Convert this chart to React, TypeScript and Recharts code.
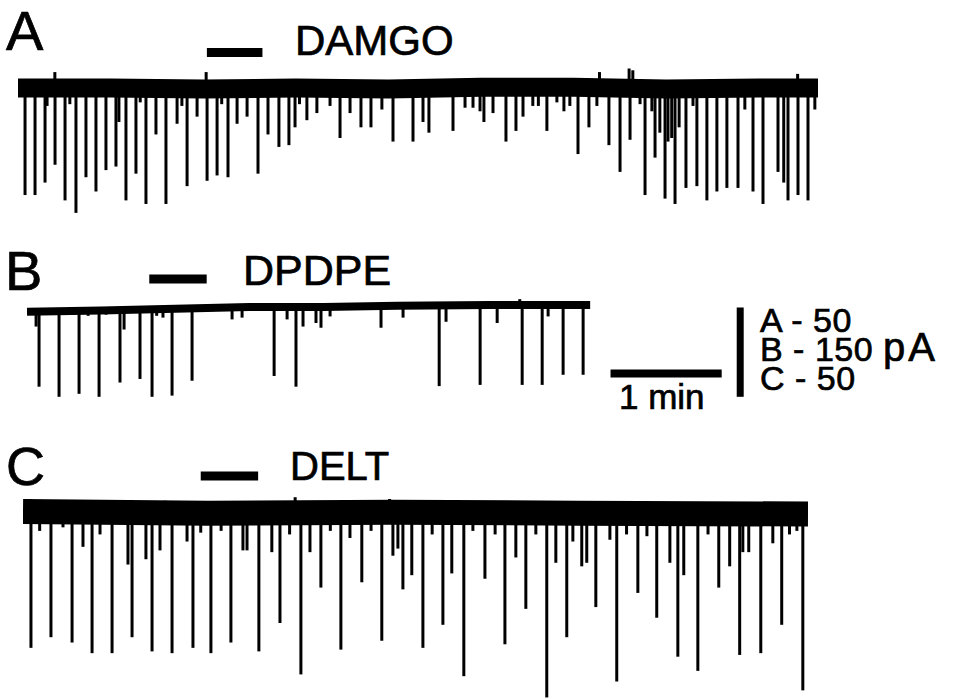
import React from "react";
import { ComposedChart, Line, XAxis, YAxis, ReferenceLine } from "recharts";

type Pair = [number, number];

// time in s, current in pA (negative = inward)
// trace A - DAMGO
const baseA: Pair[] = [[0, 0], [50, 0], [100, -0.5], [150, 0], [200, -0.5], [250, 0.5], [300, 0.5], [350, -0.5], [400, 0], [432, 0]];
const eventsA: Pair[] = [
  [3.8, -60], [9.2, -60], [14.6, -53], [15.7, -10], [19.9, 9], [20, -43], [25.4, -63], [28, -9], [31.3, -70],
  [36.7, -50], [42.1, -58], [47.5, -46], [52.9, -44], [54.5, -19], [58.3, -63], [63.7, -48], [66, -8], [69.1, -65],
  [74.5, -26], [79.9, -65], [85.9, -20], [88.5, -10], [91.3, -55], [96.7, -16], [101.6, 9], [102.1, -52], [107.5, -49],
  [110, -9], [113.4, -50], [118.3, -20], [123.7, -16], [129.6, -48], [135, -26], [140.9, -33], [146.3, -32],
  [149.6, -22], [152, -9], [156, -18], [161.4, -14], [168.5, -10], [173.9, -28], [179.3, -14], [185.2, -22],
  [190.6, -22], [196.5, -12], [202.5, -30], [213.3, -30], [218.7, -19], [221.9, -25], [234.9, -24], [241.4, -11],
  [245.7, -11], [249.5, -13], [251.6, -19], [256.5, -14], [263.5, -30], [268.9, -24], [272.7, -16], [278, -10],
  [281, -10], [285.6, -24], [291, -8], [294.8, -13], [298, -10], [302.4, -37], [308.3, -22], [312.6, -10], [314, 9],
  [319.1, -32], [325.1, -47], [330, 11], [330.5, -29], [332, 10], [335.9, -9], [338.6, -60], [342.3, -13], [344, -39],
  [346.6, -25], [349.4, -62], [351, -30], [353, -28], [354.8, -65], [357, -22], [360.7, -56], [364.5, -10],
  [366.6, -55], [372, -63], [377.4, -58], [382.8, -56], [388.8, -56], [392.5, -12], [396.9, -58], [402.3, -65],
  [410.4, -47], [413.5, -53], [415.8, -63], [421, 8], [421.2, -60], [426.6, -63], [430.3, -12],
];
const drugA: Pair = [102, 132];

// trace B - DPDPE
const baseB: Pair[] = [[0, -5], [40, -3], [80, 0], [120, 3], [160, 3], [200, 5], [250, 6], [304, 6]];
const eventsB: Pair[] = [
  [4.9, -30], [6.5, -131], [17.3, -148], [28.1, -143], [33, -12], [38.9, -148], [42.7, -10], [50.2, -124], [52.4, -35],
  [61, -118], [67.5, -148], [70, -12], [73.4, -15], [78.3, -146], [89.1, -121], [110.7, -18], [116.1, -15],
  [133.4, -113], [140.4, -18], [145.2, -131], [149, -30], [156, -24], [158.7, -32], [163.6, -13], [191.1, -32],
  [203, -15], [222.5, -130], [226.2, -22], [244.6, -128], [253.8, -24], [266, 16], [267.3, -128], [278.1, -128],
  [281.3, -13], [289.4, -111], [300.2, -111],
];
const drugB: Pair = [66, 97];

// trace C - DELT
const baseC: Pair[] = [[0, 1], [100, 0], [200, 0.5], [300, 0], [424, -0.5]];
const eventsC: Pair[] = [
  [3.8, 8], [4.3, -76], [9, -10], [15.1, -70], [21.6, -8], [26.5, -73], [32.4, -19], [37.3, -79], [41.6, -12], [47, 7],
  [48.1, -79], [56.7, -29], [58.9, -70], [66.4, -26], [69.7, -78], [74, -21], [76.7, 7], [80.5, -79], [88.6, -16],
  [91.8, -76], [96, -11], [101.5, -79], [107, -10], [112.3, -73], [118.8, -21], [121, -21], [127.4, -78], [134.4, -22],
  [138.8, -62], [144, -12], [147, 9], [150.1, -91], [155, -22], [160.9, -42], [166, -10], [171.7, -77], [176.6, -14],
  [183, -39], [188, -10], [193.8, -72], [198, 8], [199.8, -24], [202.5, -20], [205.2, -43], [210, -35], [216, -76],
  [221, -12], [226.8, -63], [231.6, -34], [238.1, -92], [243, -10], [249.5, -37], [255, -12], [260.3, -74],
  [266.2, -25], [271.6, -54], [277, -12], [282.9, -104], [287.8, -28], [293.7, -70], [297, -16], [301.8, -30],
  [304.5, -28], [309.4, -53], [317, -15], [320.7, -95], [326, -12], [332.1, -45], [337, -13], [342.3, -59],
  [349.4, -28], [353.7, -81], [356.9, -35], [364.5, -89], [370, -12], [375.8, -42], [381.7, -30], [387.1, -80],
  [388.8, -22], [392, -22], [398.5, -79], [405, -17], [409.8, -63], [414, -12], [418, -10], [421.2, -100],
];
const drugC: Pair = [96, 127];

// calibration: 1 min, 150 pA on trace B scale (= 50 pA on A and C)
const minuteBar: Pair = [315, 375];
const currentBar: Pair = [2, -148];

const FONT = "'Liberation Sans', Arial, Helvetica, sans-serif";

interface TraceProps {
  base: Pair[];
  events: Pair[];
  drug: Pair;
  drugLevel: number;
  left: number;
  top: number;
  width: number;
  height: number;
  tMax: number;
  yDomain: Pair;
  band: number;
  children?: React.ReactNode;
}

function Trace({ base, events, drug, drugLevel, left, top, width, height, tMax, yDomain, band, children }: TraceProps) {
  const rows = base.map(([t, v]) => ({ t, base: v }));

  return (
    <div style={{ position: "absolute", left, top }}>
      <ComposedChart width={width} height={height} data={rows} margin={{ top: 0, right: 0, bottom: 0, left: 0 }}>
        <XAxis type="number" dataKey="t" domain={[0, tMax]} hide allowDataOverflow />
        <YAxis type="number" domain={yDomain} hide allowDataOverflow />
        {/* synaptic currents: one stroke per event, from baseline to peak */}
        {events.map(([t, a], i) => (
          <ReferenceLine
            key={i}
            segment={[{ x: t, y: 0 }, { x: t, y: a }]}
            stroke="#000"
            strokeWidth={3}
            ifOverflow="visible"
          />
        ))}
        <Line
          dataKey="base"
          type="linear"
          stroke="#000"
          strokeWidth={band}
          dot={false}
          connectNulls
          isAnimationActive={false}
        />
        <ReferenceLine
          segment={[{ x: drug[0], y: drugLevel }, { x: drug[1], y: drugLevel }]}
          stroke="#000"
          strokeWidth={9}
        />
        {children}
      </ComposedChart>
    </div>
  );
}

export default function App() {
  return (
    <div style={{ position: "absolute", left: 0, top: 0, width: 955, height: 698, background: "#fff", overflow: "hidden" }}>
      <Trace base={baseA} events={eventsA} drug={drugA} drugLevel={20} left={18} top={40} width={800} height={180}
        tMax={432} yDomain={[-74, 27]} band={19} />
      <Trace base={baseB} events={eventsB} drug={drugB} drugLevel={50} left={27} top={267} width={741} height={131}
        tMax={400} yDomain={[-150, 70]} band={8}>
        <ReferenceLine
          segment={[{ x: minuteBar[0], y: -109 }, { x: minuteBar[1], y: -109 }]}
          stroke="#000"
          strokeWidth={8}
        />
        <ReferenceLine
          segment={[{ x: 385, y: currentBar[0] }, { x: 385, y: currentBar[1] }]}
          stroke="#000"
          strokeWidth={7}
        />
      </Trace>
      <Trace base={baseC} events={eventsC} drug={drugC} drugLevel={21} left={23} top={460} width={785} height={241}
        tMax={424} yDomain={[-106, 30]} band={25} />

      <svg width={955} height={698} style={{ position: "absolute", left: 0, top: 0, pointerEvents: "none" }}>
        <g fontFamily={FONT} fill="#000" stroke="#000" strokeWidth={0.7}>
          <text x={6} y={50} fontSize={56}>A</text>
          <text x={295} y={55} fontSize={42}>DAMGO</text>
          <text x={5} y={290} fontSize={56}>B</text>
          <text x={243} y={285} fontSize={43}>DPDPE</text>
          <text x={6} y={485} fontSize={54}>C</text>
          <text x={290} y={480} fontSize={40}>DELT</text>
          <text x={619} y={409} fontSize={35}>1 min</text>
          <text x={760} y={332} fontSize={34} letterSpacing={0.5}>A - 50</text>
          <text x={760} y={361} fontSize={34} letterSpacing={0.5}>
            B - 150 <tspan fontSize={40} letterSpacing={3}>pA</tspan>
          </text>
          <text x={760} y={390} fontSize={34} letterSpacing={0.5}>C - 50</text>
        </g>
      </svg>
    </div>
  );
}
